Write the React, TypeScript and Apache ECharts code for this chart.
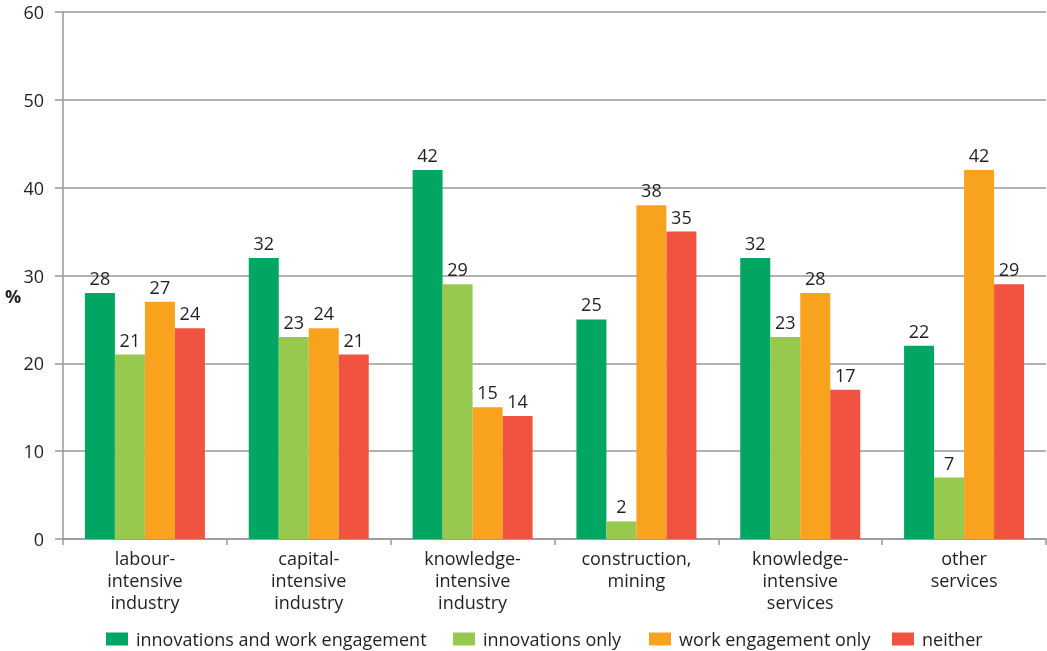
import React, { useEffect, useRef } from "react";
import * as echarts from "echarts";

const categories = [
  "labour-\nintensive\nindustry",
  "capital-\nintensive\nindustry",
  "knowledge-\nintensive\nindustry",
  "construction,\nmining",
  "knowledge-\nintensive\nservices",
  "other\nservices",
];
const seriesNames = [
  "innovations and work engagement",
  "innovations only",
  "work engagement only",
  "neither",
];
const bothValues = [28, 32, 42, 25, 32, 22];
const innovOnly = [21, 23, 29, 2, 23, 7];
const workOnly = [27, 24, 15, 38, 28, 42];
const neitherValues = [24, 21, 14, 35, 17, 29];
const colors = ["#00a661", "#98c94f", "#f8a21e", "#f05440"];
const legendLefts = [106, 453, 649, 892];
const yAxisTitle = "%";

const FONT = "'Open Sans', 'Noto Sans', sans-serif";

export default function App() {
  const ref = useRef<HTMLDivElement>(null);
  useEffect(() => {
    if (!ref.current) return;
    const chart = echarts.init(ref.current, null, { renderer: "svg" });
    const data = [bothValues, innovOnly, workOnly, neitherValues];
    chart.setOption({
      animation: false,
      textStyle: { fontFamily: FONT },
      grid: { left: 63, right: 1, top: 12, bottom: 112, outerBoundsMode: "none", containLabel: false },
      graphic: [
        {
          type: "text",
          left: 5,
          top: 287,
          style: {
            text: yAxisTitle,
            fontSize: 18,
            fontWeight: "bold",
            fill: "#231f20",
            fontFamily: FONT,
          },
        },
      ],
      legend: seriesNames.map((name, i) => ({
        top: 630,
        left: legendLefts[i],
        padding: 0,
        itemWidth: 22,
        itemHeight: 13,
        itemGap: 0,
        icon: "rect",
        textStyle: { fontSize: 18, color: "#231f20", fontFamily: FONT, padding: [0, 0, 0, 3] },
        data: [name],
      })),
      xAxis: {
        type: "category",
        data: categories,
        axisLine: { lineStyle: { color: "#999", width: 1.5 } },
        axisTick: { show: true, length: 6, lineStyle: { color: "#999", width: 1.5 } },
        axisLabel: {
          fontSize: 18,
          color: "#231f20",
          lineHeight: 22,
          margin: 8,
          interval: 0,
          fontFamily: FONT,
        },
      },
      yAxis: {
        type: "value",
        min: 0,
        max: 60,
        interval: 10,
        axisLine: { show: true, lineStyle: { color: "#999", width: 1.5 } },
        axisTick: { show: true, length: 8, lineStyle: { color: "#999", width: 1.5 } },
        splitLine: { lineStyle: { color: "#999", width: 1.5 } },
        axisLabel: { fontSize: 18, color: "#231f20", margin: 19, fontFamily: FONT },
      },
      series: seriesNames.map((name, i) => ({
        name,
        type: "bar",
        data: data[i],
        barWidth: 30,
        barGap: "0%",
        itemStyle: { color: colors[i] },
        label: {
          show: true,
          position: "top",
          distance: 6,
          fontSize: 18,
          color: "#231f20",
          fontFamily: FONT,
        },
      })),
    });
    return () => chart.dispose();
  }, []);
  return (
    <div
      ref={ref}
      style={{ position: "fixed", left: 0, top: 0, width: 1047, height: 651 }}
    />
  );
}
